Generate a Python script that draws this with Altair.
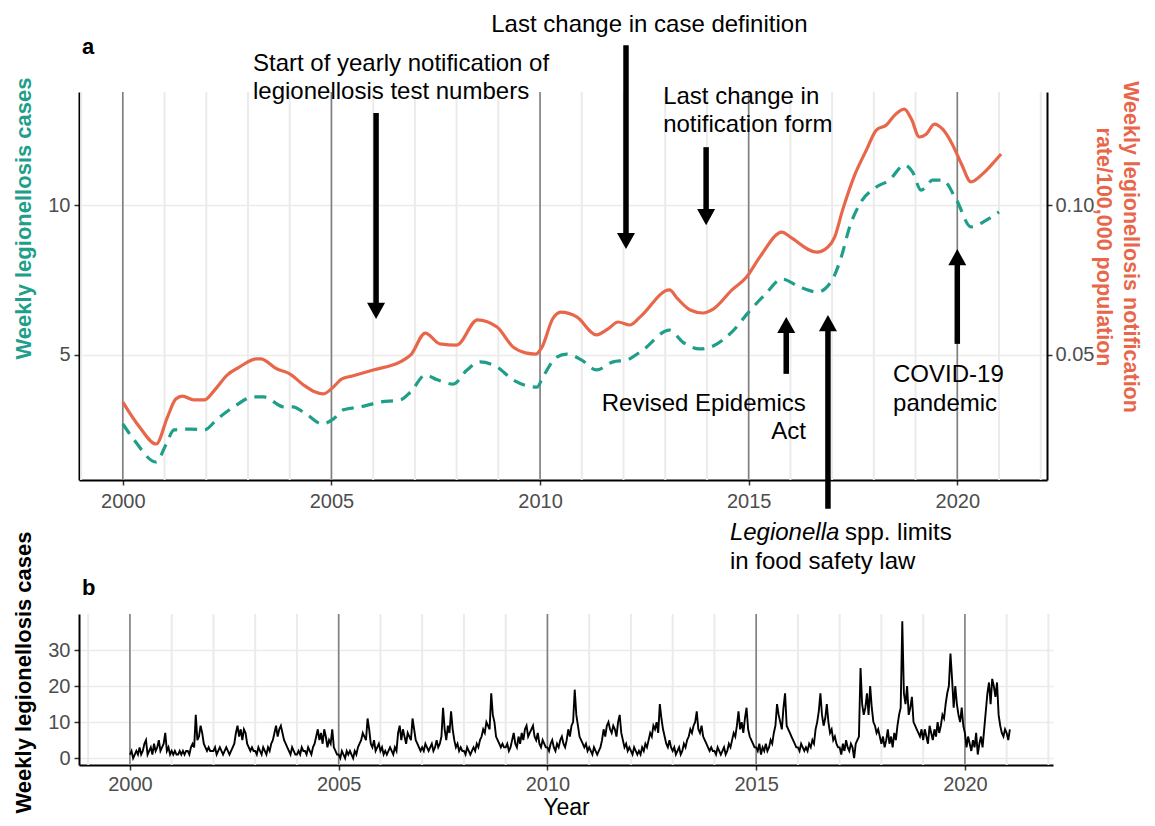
import altair as alt
import pandas as pd

TEAL = "#1F9E89"
ORANGE = "#E8674A"
FONT = "Liberation Sans"

# ---------------- Panel a: smoothed series ----------------
case_year = [2000.0, 2000.27, 2000.8, 2001.03, 2001.23, 2001.63, 2001.95, 2002.27, 2002.66, 2003.14,
             2003.38, 2003.86, 2004.07, 2004.42, 2004.78, 2005.05, 2005.29, 2005.7, 2006.17, 2006.65,
             2006.9, 2007.25, 2007.54, 2007.92, 2008.25, 2008.56, 2008.97, 2009.35, 2009.93, 2010.07,
             2010.4, 2010.64, 2011.0, 2011.35, 2011.75, 2012.07, 2012.47, 2013.1, 2013.42, 2013.83,
             2014.15, 2014.6, 2015.0, 2015.4, 2015.8, 2016.22, 2016.65, 2017.0, 2017.22, 2017.42,
             2017.66, 2018.06, 2018.37, 2018.73, 2018.93, 2019.13, 2019.25, 2019.4, 2019.65, 2019.98,
             2020.33, 2020.7, 2021.0]
case_value = [2.7, 2.17, 1.43, 2.0, 2.5, 2.53, 2.5, 2.87, 3.27, 3.6,
              3.6, 3.27, 3.27, 3.0, 2.7, 2.87, 3.17, 3.27, 3.43, 3.5,
              3.77, 4.33, 4.17, 4.03, 4.5, 4.77, 4.6, 4.17, 3.93, 4.27,
              4.93, 5.03, 4.83, 4.5, 4.77, 4.83, 5.17, 5.83, 5.43, 5.2,
              5.3, 5.77, 6.43, 7.03, 7.53, 7.27, 7.1, 7.5, 8.27, 9.27,
              10.03, 10.6, 10.83, 11.33, 11.1, 10.5, 10.6, 10.83, 10.83, 10.17,
              9.27, 9.5, 9.77]

rate_year = [2000.0, 2000.4, 2000.8, 2001.07, 2001.27, 2001.43, 2001.7, 2001.95, 2002.2, 2002.5,
             2002.8, 2003.2, 2003.3, 2003.7, 2004.0, 2004.33, 2004.6, 2004.8, 2005.0, 2005.25,
             2005.5, 2006.0, 2006.65, 2006.9, 2007.25, 2007.6, 2008.0, 2008.5, 2008.97, 2009.35,
             2009.65, 2009.9, 2010.05, 2010.3, 2010.5, 2010.88, 2011.35, 2011.63, 2011.87, 2012.15,
             2012.4, 2013.1, 2013.3, 2013.6, 2013.9, 2014.15, 2014.6, 2014.95, 2015.27, 2015.8,
             2016.0, 2016.63, 2016.9, 2017.06, 2017.25, 2017.54, 2017.82, 2018.06, 2018.3, 2018.5,
             2018.73, 2018.9, 2019.09, 2019.26, 2019.45, 2019.65, 2019.88, 2020.1, 2020.33, 2020.6,
             2020.84, 2021.05]
rate_value = [0.0343, 0.026, 0.0203, 0.0293, 0.0353, 0.0363, 0.035, 0.035, 0.0383, 0.0433,
              0.046, 0.0487, 0.0487, 0.0453, 0.0437, 0.040, 0.0377, 0.037, 0.0387, 0.042,
              0.043, 0.045, 0.0477, 0.050, 0.0573, 0.0537, 0.0533, 0.0617, 0.0593, 0.0527,
              0.0507, 0.0503, 0.0527, 0.062, 0.0643, 0.0627, 0.0567, 0.0587, 0.061, 0.060,
              0.0627, 0.0717, 0.0687, 0.065, 0.064, 0.0653, 0.0717, 0.076, 0.0827, 0.091,
              0.0893, 0.0843, 0.086, 0.0893, 0.0983, 0.110, 0.1183, 0.125, 0.1267, 0.130,
              0.132, 0.1287, 0.1227, 0.1237, 0.127, 0.1253, 0.1203, 0.1137, 0.1077, 0.1103,
              0.1137, 0.117]

# ---------------- Panel b: weekly cases (read roughly every second week) ----------------
weekly_2000 = [1, 2, 0, 1, 2, 1, 3, 1, 2, 4, 5, 1, 2, 3, 1, 4, 2, 3, 5, 2, 3, 4, 7, 2, 3, 1]
weekly_2001 = [2, 1, 2, 1, 1, 2, 1, 2, 1, 2, 2, 1, 3, 4, 3, 12, 5, 6, 9, 7, 4, 3, 2, 3, 2, 2]
weekly_2002 = [2, 3, 1, 2, 3, 2, 1, 2, 3, 2, 1, 2, 3, 4, 7, 9, 6, 8, 5, 8, 7, 4, 3, 2, 3, 2]
weekly_2003 = [2, 1, 3, 2, 1, 3, 2, 1, 3, 2, 4, 5, 7, 9, 6, 8, 9, 7, 5, 4, 3, 2, 1, 3, 2, 1]
weekly_2004 = [1, 2, 1, 3, 2, 2, 1, 3, 2, 1, 3, 4, 6, 8, 5, 7, 4, 8, 6, 3, 5, 4, 8, 3, 2, 1]
weekly_2005 = [1, 0, 2, 1, 0, 2, 1, 2, 1, 0, 2, 1, 3, 4, 5, 7, 6, 5, 11, 8, 4, 3, 5, 2, 3, 4]
weekly_2006 = [2, 3, 1, 2, 1, 2, 3, 2, 1, 3, 2, 7, 9, 5, 8, 6, 4, 7, 6, 5, 11, 8, 5, 4, 3, 2]
weekly_2007 = [3, 2, 4, 3, 2, 3, 4, 2, 3, 5, 3, 4, 6, 14, 8, 5, 9, 7, 13, 8, 5, 3, 4, 2, 3, 2]
weekly_2008 = [2, 1, 3, 2, 1, 2, 3, 2, 4, 3, 5, 6, 8, 7, 10, 9, 8, 18, 12, 10, 6, 5, 4, 3, 4, 3]
weekly_2009 = [3, 4, 2, 3, 5, 7, 4, 3, 6, 4, 7, 5, 8, 9, 6, 7, 8, 9, 6, 5, 7, 4, 3, 5, 4, 3]
weekly_2010 = [3, 2, 4, 5, 3, 2, 4, 3, 5, 6, 4, 3, 5, 8, 6, 9, 10, 19, 12, 9, 6, 5, 4, 3, 4, 2]
weekly_2011 = [3, 2, 1, 3, 2, 1, 2, 3, 5, 8, 6, 9, 10, 8, 7, 9, 8, 6, 10, 12, 7, 5, 3, 4, 2, 3]
weekly_2012 = [2, 1, 3, 2, 1, 2, 1, 3, 2, 4, 3, 5, 7, 6, 9, 8, 10, 7, 15, 11, 8, 6, 4, 3, 5, 3]
weekly_2013 = [2, 3, 1, 2, 3, 1, 2, 4, 3, 5, 6, 8, 7, 9, 10, 13, 8, 7, 9, 6, 5, 4, 3, 2, 3, 2]
weekly_2014 = [2, 1, 3, 2, 1, 2, 3, 1, 2, 4, 3, 5, 7, 6, 9, 13, 8, 10, 7, 11, 14, 8, 6, 5, 4, 3]
weekly_2015 = [3, 2, 4, 1, 3, 2, 4, 2, 3, 5, 4, 7, 9, 15, 12, 10, 8, 14, 18, 9, 8, 7, 6, 5, 4, 3]
weekly_2016 = [3, 2, 4, 3, 2, 3, 2, 4, 3, 5, 4, 8, 10, 13, 18, 12, 9, 11, 15, 10, 7, 8, 5, 6, 4, 3]
weekly_2017 = [3, 1, 4, 2, 5, 3, 2, 4, 3, 0, 4, 5, 6, 25, 15, 12, 14, 18, 12, 20, 14, 10, 9, 7, 8, 6]
weekly_2018 = [4, 6, 3, 5, 8, 4, 6, 3, 7, 5, 9, 12, 14, 38, 18, 15, 20, 12, 14, 17, 10, 9, 8, 7, 6, 8]
weekly_2019 = [5, 8, 6, 4, 9, 7, 5, 8, 6, 10, 7, 9, 12, 11, 15, 18, 20, 29, 22, 14, 20, 15, 12, 10, 14, 9]
weekly_2020 = [7, 3, 6, 4, 2, 5, 3, 7, 1, 4, 6, 3, 8, 13, 18, 21, 15, 22, 20, 17, 21, 12, 9, 7, 6, 8]
weekly_2021 = [7, 5, 8]

weekly_years = [2000, 2001, 2002, 2003, 2004, 2005, 2006, 2007, 2008, 2009, 2010,
                2011, 2012, 2013, 2014, 2015, 2016, 2017, 2018, 2019, 2020, 2021]
weekly_lists = [weekly_2000, weekly_2001, weekly_2002, weekly_2003, weekly_2004, weekly_2005,
                weekly_2006, weekly_2007, weekly_2008, weekly_2009, weekly_2010, weekly_2011,
                weekly_2012, weekly_2013, weekly_2014, weekly_2015, weekly_2016, weekly_2017,
                weekly_2018, weekly_2019, weekly_2020, weekly_2021]

# ---------------- Axis ticks / grid ----------------
tick_years = [2000, 2005, 2010, 2015, 2020]
grid_years = list(range(1999, 2023))

# ---------------- Titles ----------------
right_title_lines = ["Weekly legionellosis notification", "rate/100,000 population"]

# ---------------- Annotations (year, level on the case axis) ----------------
note_text = ["Last change in case definition",
             "Start of yearly notification of", "legionellosis test numbers",
             "Last change in", "notification form",
             "Revised Epidemics", "Act",
             "COVID-19", "pandemic",
             "Legionella", "spp. limits", "in food safety law"]
note_year = [2012.62, 2003.12, 2003.12, 2012.95, 2012.95, 2016.37, 2016.37,
             2018.46, 2018.46, 2014.55, 2017.31, 2014.55]
note_level = [16.0, 14.7, 13.77, 13.6, 12.67, 3.37, 2.43, 4.33, 3.37, -0.93, -0.93, -1.9]
note_align = ["center", "left", "left", "left", "left", "right", "right",
              "left", "left", "left", "left", "left"]
note_italic = [False, False, False, False, False, False, False, False, False, True, False, False]

arrow_year = [2012.06, 2006.07, 2013.98, 2015.90, 2016.90, 2020.0]
arrow_from = [15.33, 13.07, 11.93, 4.37, -0.13, 5.37]
arrow_to = [8.53, 6.2, 9.33, 6.27, 6.33, 8.53]

# ---------------- Data frames ----------------
cases_df = pd.DataFrame({"year": case_year, "cases": case_value})
rate_df = pd.DataFrame({"year": rate_year, "rate": rate_value})
wk_x, wk_y = [], []
for yr, vals in zip(weekly_years, weekly_lists):
    for i, v in enumerate(vals):
        wk_x.append(yr + i / 26.0)
        wk_y.append(v)
weekly_df = pd.DataFrame({"year": wk_x, "cases": wk_y})
light_df = pd.DataFrame({"year": grid_years})
dark_df = pd.DataFrame({"year": tick_years})
notes_df = pd.DataFrame({"year": note_year, "level": note_level, "text": note_text,
                         "align": note_align, "italic": note_italic})
arrows_df = pd.DataFrame({"year": arrow_year, "start": arrow_from, "tip": arrow_to})
arrows_df["down"] = arrows_df["start"] > arrows_df["tip"]
arrows_df["shaft_end"] = arrows_df["tip"] + arrows_df["down"].map({True: 0.4, False: -0.4})

# ---------------- Scales and axes ----------------
XT = alt.Scale(domain=[1998.95, 2022.15], nice=False, zero=False)
YL = alt.Scale(domain=[0.83, 13.77], nice=False, zero=False)
YR = alt.Scale(domain=[0.0083, 0.1377], nice=False, zero=False)
XB = alt.Scale(domain=[1998.78, 2022.11], nice=False, zero=False)
YB = alt.Scale(domain=[-1.9, 40], nice=False, zero=False)

common = dict(labelFontSize=20, labelColor="#4D4D4D", domainColor="black", domainWidth=2,
              tickColor="#333333", tickWidth=1.5, tickSize=5)

ax_top = alt.Axis(values=tick_years, format="d", grid=False, labelFlush=False, labelPadding=6,
                  **common)
ay_left = alt.Axis(values=[5, 10], grid=True, gridColor="#EBEBEB", gridWidth=1.5, labelPadding=4,
                   title="Weekly legionellosis cases", titleColor=TEAL, titleFontSize=22,
                   titleFontWeight="bold", titleAngle=270, titleX=-56, titleY=126,
                   titleAlign="center", titleBaseline="middle", **common)
ay_right = alt.Axis(orient="right", values=[0.05, 0.10], format=".2f", grid=False, labelPadding=3,
                    **common)
ax_bot = alt.Axis(values=tick_years, format="d", grid=False, labelFlush=False, labelPadding=4,
                  title="Year", titleFontSize=23, titleFontWeight="normal", titleColor="black",
                  titlePadding=2, **common)
ay_bot = alt.Axis(values=[0, 10, 20, 30], grid=True, gridColor="#EBEBEB", gridWidth=1.5,
                  labelPadding=4,
                  title="Weekly legionellosis cases", titleColor="black", titleFontSize=22,
                  titleFontWeight="bold", titleAngle=270, titleX=-56, titleY=58,
                  titleAlign="center", titleBaseline="middle", **common)


def xt(field):
    return alt.X(f"{field}:Q", scale=XT, axis=ax_top, title=None)


def yl(field):
    return alt.Y(f"{field}:Q", scale=YL, axis=ay_left)


# ---------------- Panel a ----------------
light_a = alt.Chart(light_df).mark_rule(color="#EBEBEB", strokeWidth=2).encode(x=xt("year"))
dark_a = alt.Chart(dark_df).mark_rule(color="#7F7F7F", strokeWidth=1.6).encode(x=xt("year"))
teal_line = alt.Chart(cases_df).mark_line(
    color=TEAL, strokeWidth=3.2, strokeDash=[12, 8], interpolate="monotone").encode(
    x=xt("year"), y=yl("cases"))

shafts = alt.Chart(arrows_df).mark_rule(color="black", strokeWidth=5.5, clip=False,
                                         strokeCap="butt").encode(
    x=xt("year"), y=yl("start"), y2="shaft_end:Q")
heads_down = alt.Chart(arrows_df).transform_filter("datum.down").mark_point(
    shape="M0,0L-1,-1.8L1,-1.8Z", size=324, filled=True, color="black", opacity=1,
    strokeWidth=0, clip=False).encode(x=xt("year"), y=yl("tip"))
heads_up = alt.Chart(arrows_df).transform_filter("!datum.down").mark_point(
    shape="M0,0L-1,1.8L1,1.8Z", size=324, filled=True, color="black", opacity=1,
    strokeWidth=0, clip=False).encode(x=xt("year"), y=yl("tip"))


def note_layer(align, italic):
    cond = f"datum.align == '{align}' && datum.italic == {'true' if italic else 'false'}"
    return alt.Chart(notes_df).transform_filter(cond).mark_text(
        fontSize=24, color="black", align=align, baseline="middle", clip=False,
        fontStyle="italic" if italic else "normal").encode(
        x=xt("year"), y=yl("level"), text="text:N")


notes = [note_layer("center", False), note_layer("left", False),
         note_layer("right", False), note_layer("left", True)]

label_a = alt.Chart(pd.DataFrame({"t": ["a"]})).mark_text(
    fontSize=22, fontWeight="bold", align="left", baseline="alphabetic", color="black").encode(
    text="t:N", x=alt.value(3), y=alt.value(-38))


def right_title(line, xpos):
    return alt.Chart(pd.DataFrame({"t": [line]})).mark_text(
        angle=90, fontSize=21.5, fontWeight="bold", color=ORANGE, align="center",
        baseline="middle").encode(text="t:N", x=alt.value(xpos), y=alt.value(155))


rt1 = right_title(right_title_lines[0], 1051)
rt2 = right_title(right_title_lines[1], 1024)

left_group = alt.layer(light_a, dark_a, teal_line, shafts, heads_down, heads_up, *notes,
                       label_a, rt1, rt2)

orange_line = alt.Chart(rate_df).mark_line(
    color=ORANGE, strokeWidth=3.2, interpolate="monotone").encode(
    x=xt("year"), y=alt.Y("rate:Q", scale=YR, axis=ay_right, title=None))

top = alt.layer(left_group, orange_line).resolve_scale(y="independent").properties(
    width=968, height=388)

# ---------------- Panel b ----------------
def xb(field):
    return alt.X(f"{field}:Q", scale=XB, axis=ax_bot)


light_b = alt.Chart(light_df).mark_rule(color="#EBEBEB", strokeWidth=2).encode(x=xb("year"))
dark_b = alt.Chart(dark_df).mark_rule(color="#7F7F7F", strokeWidth=1.6).encode(x=xb("year"))
weekly_line = alt.Chart(weekly_df).mark_line(color="black", strokeWidth=1.9).encode(
    x=xb("year"), y=alt.Y("cases:Q", scale=YB, axis=ay_bot))
label_b = alt.Chart(pd.DataFrame({"t": ["b"]})).mark_text(
    fontSize=22, fontWeight="bold", align="left", baseline="alphabetic", color="black").encode(
    text="t:N", x=alt.value(3), y=alt.value(-19))

bottom = alt.layer(light_b, dark_b, weekly_line, label_b).properties(width=974, height=151)

chart = alt.vconcat(top, bottom, spacing=134, bounds="flush").properties(
    padding={"left": 3, "top": 5, "right": 0, "bottom": 0}
).configure(font=FONT).configure_view(strokeWidth=0)

chart.save("out.html", embed_options={"renderer": "svg", "actions": False})
